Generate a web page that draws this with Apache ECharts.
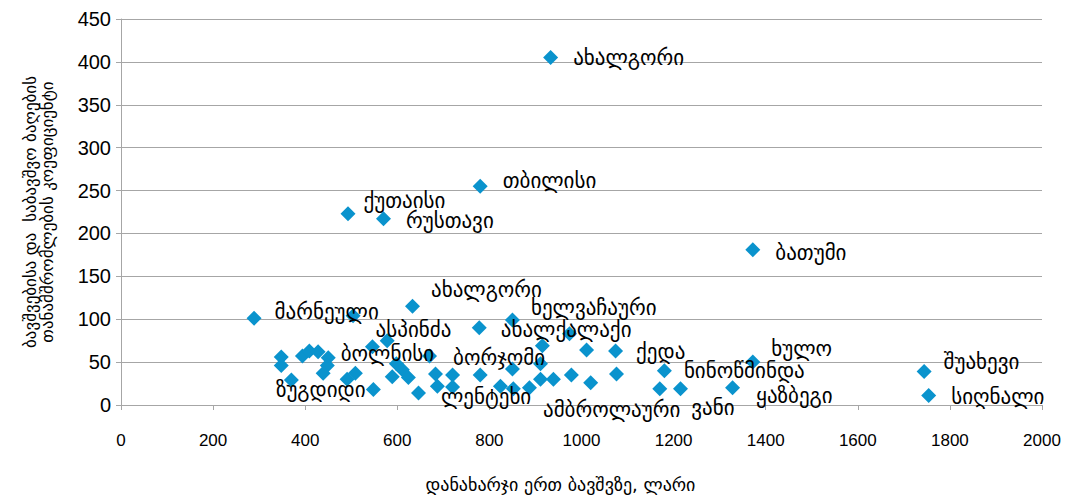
<!DOCTYPE html>
<html>
<head>
<meta charset="utf-8">
<script src="https://cdn.jsdelivr.net/npm/echarts@6/dist/echarts.min.js"></script>
<style>
    html, body { margin: 0; padding: 0; background: #fff; }
    #chart { width: 1074px; height: 497px; }
</style>
</head>
<body>
<div id="chart"></div>
<script>
    // დანახარჯი ერთ ბავშვზე (ლარი)
    var spending = [
        933, 780, 493, 570, 1372, 289, 633, 850, 504, 778, 450, 670, 370, 646, 887, 1170,
        1074, 1372, 1180, 1328, 1744, 1754,
        1215, 546, 578, 348, 348, 394, 409, 428, 448, 439, 491, 509, 548, 598, 589, 611,
        624, 683, 687, 720, 720, 780, 824, 852, 850, 915, 911, 939, 974, 978, 1011, 1020,
        1076, 911
    ];
    // ბავშვების და თანამშრომლების კოეფიციენტი
    var ratio = [
        405, 255, 223, 217, 181, 101, 115, 99, 104, 90, 55, 57, 29, 14, 20, 19,
        63, 50, 40, 20, 39, 11,
        19, 68, 75, 56, 46, 57, 63, 62, 46, 37, 30, 37, 18, 48, 33, 41,
        32, 36, 22, 35, 21, 35, 22, 19, 42, 69, 30, 30, 83, 35, 64, 26,
        36, 48
    ];
    var places = [
        'ახალგორი', 'თბილისი', 'ქუთაისი', 'რუსთავი', 'ბათუმი', 'მარნეული', 'ახალგორი',
        'ხელვაჩაური', 'ასპინძა', 'ახალქალაქი', 'ბოლნისი', 'ბორჯომი', 'ზუგდიდი', 'ლენტეხი',
        'ამბროლაური', 'ვანი', 'ქედა', 'ხულო', 'ნინოწმინდა', 'ყაზბეგი', 'შუახევი', 'სიღნალი'
    ];
    var xTicks = [0, 200, 400, 600, 800, 1000, 1200, 1400, 1600, 1800, 2000];
    var yTicks = [0, 50, 100, 150, 200, 250, 300, 350, 400, 450];

    // label nudges (px), by point index
    var nudge = [
        [0, 0], [0, -5], [-7, -13], [0, 2], [0, 3], [-2, -6], [-4, -16], [-4, -12], [0, 14],
        [-1, 2], [-10, -4], [1, 2], [-38, 10], [0, 4], [-9, 22], [9, 19], [-2, 1], [-4, -13],
        [-3, 0], [1, 8], [-3, -10], [0, 1]
    ];

    var points = spending.map(function (x, i) {
        var item = {value: [x, ratio[i]]};
        if (i < places.length) {
            item.name = places[i];
            item.label = {show: true, offset: nudge[i]};
        }
        return item;
    });

    var chart = echarts.init(document.getElementById('chart'), null, {renderer: 'svg'});
    chart.setOption({
        animation: false,
        grid: {left: 121, right: 32, top: 19, bottom: 92, outerBoundsMode: 'none'},
        xAxis: {
            type: 'value',
            min: xTicks[0],
            max: xTicks[xTicks.length - 1],
            interval: xTicks[1] - xTicks[0],
            name: 'დანახარჯი ერთ ბავშვზე, ლარი',
            nameLocation: 'middle',
            nameGap: 70,
            nameTextStyle: {color: '#000', fontSize: 18, fontFamily: 'DejaVu Sans', padding: [0, 42, 0, 0]},
            axisLine: {show: true, lineStyle: {color: '#a6a6a6'}},
            axisTick: {show: true, length: 5, lineStyle: {color: '#a6a6a6'}},
            axisLabel: {
                color: '#000', fontSize: 17, fontFamily: 'Liberation Sans Narrow, Liberation Sans', margin: 27,
                formatter: function (v) { return String(v); }
            },
            splitLine: {show: false}
        },
        yAxis: {
            type: 'value',
            min: yTicks[0],
            max: yTicks[yTicks.length - 1],
            interval: yTicks[1] - yTicks[0],
            name: 'ბავშვებისა და  საბავშვო ბაღების\nთანამშრომლების კოეფიციენტი',
            nameLocation: 'middle',
            nameGap: 66,
            nameRotate: 90,
            nameTextStyle: {color: '#000', fontSize: 17, fontFamily: 'DejaVu Sans', lineHeight: 17},
            axisLine: {show: true, lineStyle: {color: '#a6a6a6'}},
            axisTick: {show: true, length: 5, lineStyle: {color: '#a6a6a6'}},
            axisLabel: {color: '#000', fontSize: 20, fontFamily: 'Liberation Sans', margin: 10},
            splitLine: {show: true, lineStyle: {color: '#a6a6a6'}}
        },
        series: [{
            type: 'scatter',
            symbol: 'diamond',
            symbolSize: [15, 15],
            itemStyle: {color: '#0a93cd', opacity: 1},
            label: {
                show: false,
                position: 'right',
                distance: 15,
                formatter: '{b}',
                color: '#000',
                fontSize: 21,
                fontFamily: 'DejaVu Sans'
            },
            data: points
        }]
    });
</script>
</body>
</html>
